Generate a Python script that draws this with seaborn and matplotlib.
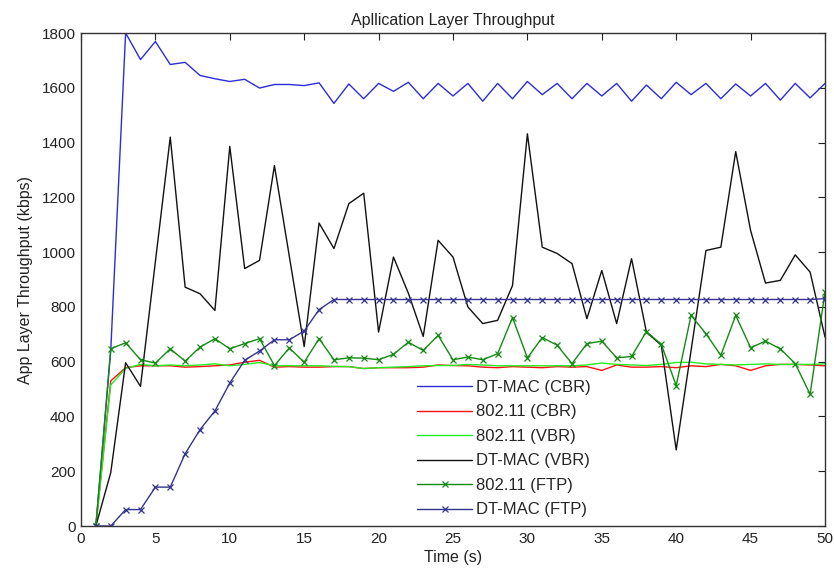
import numpy as np
import pandas as pd
import matplotlib
matplotlib.use("Agg")
import matplotlib.pyplot as plt
import seaborn as sns

time_s = list(range(1, 51))

dtmac_cbr = [0, 640, 1800, 1703, 1769, 1685, 1693, 1645, 1633, 1623,
             1631, 1599, 1612, 1612, 1608, 1618, 1543, 1614, 1560, 1616,
             1587, 1620, 1560, 1616, 1570, 1616, 1551, 1616, 1560, 1623,
             1575, 1616, 1560, 1616, 1570, 1616, 1551, 1610, 1560, 1620,
             1575, 1616, 1560, 1614, 1570, 1616, 1555, 1616, 1563, 1616]

wlan_cbr = [0, 530, 578, 585, 585, 585, 580, 582, 585, 588,
            598, 605, 580, 582, 580, 580, 582, 582, 575, 578,
            578, 578, 580, 588, 586, 585, 580, 578, 582, 580,
            578, 582, 580, 582, 568, 588, 580, 580, 582, 578,
            585, 582, 590, 585, 568, 585, 590, 590, 588, 585]

wlan_vbr = [0, 515, 575, 590, 585, 588, 585, 588, 592, 585,
            590, 597, 585, 585, 585, 585, 583, 582, 575, 578,
            580, 582, 585, 586, 586, 590, 588, 585, 585, 585,
            585, 585, 585, 588, 595, 590, 588, 586, 590, 597,
            598, 592, 590, 588, 590, 592, 590, 590, 590, 592]

dtmac_vbr = [0, 195, 596, 510, 965, 1420, 872, 848, 787, 1386,
             940, 970, 1316, 985, 655, 1106, 1013, 1177, 1215, 708,
             982, 850, 692, 1043, 982, 800, 739, 751, 878, 1432,
             1018, 995, 958, 757, 933, 739, 976, 708, 660, 278,
             641, 1006, 1018, 1367, 1079, 887, 897, 990, 927, 690]

wlan_ftp = [0, 647, 669, 607, 595, 647, 602, 653, 684, 647,
            666, 684, 586, 650, 598, 684, 607, 614, 613, 607,
            627, 671, 641, 696, 607, 617, 607, 629, 761, 614,
            688, 660, 593, 666, 675, 614, 619, 710, 663, 513,
            769, 702, 623, 769, 651, 675, 647, 593, 481, 854]

dtmac_ftp = [0, 0, 60, 60, 142, 142, 264, 352, 420, 522,
             605, 639, 680, 680, 712, 790, 827, 827, 827, 827,
             827, 827, 827, 827, 827, 827, 827, 827, 827, 827,
             827, 827, 827, 827, 827, 827, 827, 827, 827, 827,
             827, 827, 827, 827, 827, 827, 827, 827, 827, 830]

series_names = ["DT-MAC (CBR)", "802.11 (CBR)", "802.11 (VBR)",
                "DT-MAC (VBR)", "802.11 (FTP)", "DT-MAC (FTP)"]
series_values = [dtmac_cbr, wlan_cbr, wlan_vbr, dtmac_vbr, wlan_ftp, dtmac_ftp]
series_colors = ["#2c2cd8", "#ff1010", "#22ee22", "#111111", "#138a13", "#343490"]
series_markers = [None, None, None, None, "x", "x"]

x_ticks = [0, 5, 10, 15, 20, 25, 30, 35, 40, 45, 50]
y_ticks = [0, 200, 400, 600, 800, 1000, 1200, 1400, 1600, 1800]

sns.set_style("white")
plt.rcParams["font.family"] = ["Liberation Sans", "DejaVu Sans"]

fig = plt.figure(figsize=(8.34, 5.75), dpi=100)
ax = fig.add_axes([0.0971, 0.0852, 0.8921, 0.8574])

for name, vals, col, mk in zip(series_names, series_values, series_colors, series_markers):
    df = pd.DataFrame({"t": time_s, "v": vals})
    kw = {}
    if mk:
        kw = dict(marker=mk, markersize=5, markeredgewidth=0.9, markeredgecolor=col)
    sns.lineplot(data=df, x="t", y="v", ax=ax, color=col, linewidth=1.0,
                 label=name, **kw)

ax.set_xlim(0, 50)
ax.set_ylim(0, 1800)
ax.set_xticks(x_ticks)
ax.set_yticks(y_ticks)
ax.tick_params(direction="in", length=5, width=0.8, labelsize=11, top=True, right=True,
               colors="#222222", pad=4)
for s in ax.spines.values():
    s.set_visible(True)
    s.set_color("#333333")
    s.set_linewidth(1.0)

ax.set_title("Apllication Layer Throughput", fontsize=11.5, pad=6, color="#222222")
ax.set_xlabel("Time (s)", fontsize=11.5, labelpad=3, color="#222222")
ax.set_ylabel("App Layer Throughput (kbps)", fontsize=11.5, labelpad=6, color="#222222")

leg = ax.legend(loc="upper left", bbox_to_anchor=(0.443, 0.31), frameon=False,
                fontsize=12, handlelength=3.3, handletextpad=0.2,
                labelspacing=0.57, borderaxespad=0, numpoints=1)

fig.savefig("out.png", dpi=100)
